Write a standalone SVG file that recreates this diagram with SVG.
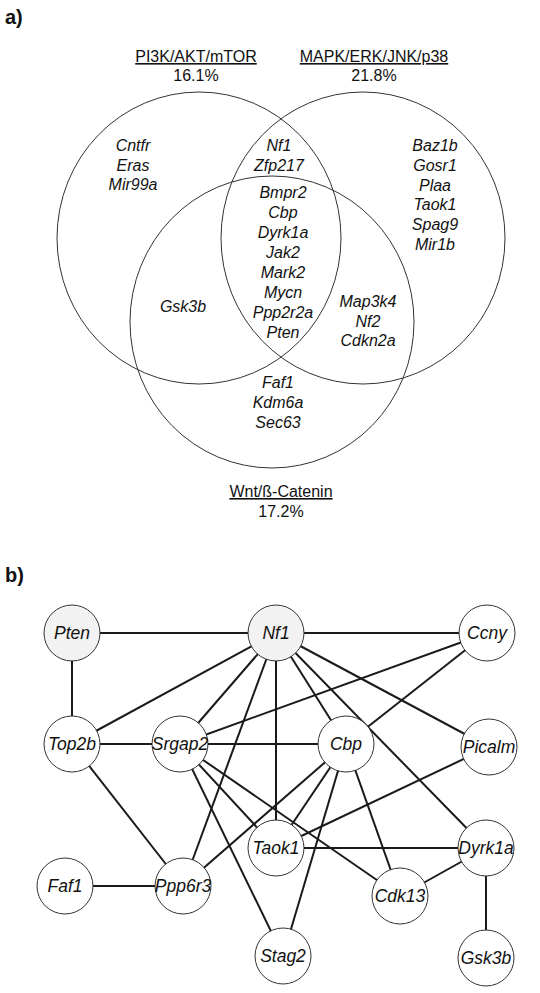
<svg xmlns="http://www.w3.org/2000/svg" width="540" height="993" viewBox="0 0 540 993">
<style>
text{font-family:"Liberation Sans",Arial,sans-serif;fill:#111;}
.lab{font-size:20px;font-weight:bold;}
.ttl{font-size:16px;text-anchor:middle;}
.g{font-size:16px;font-style:italic;text-anchor:middle;}
.venn{fill:none;stroke:#333;stroke-width:1;}
.e{stroke:#1a1a1a;stroke-width:2;}
.n{fill:#fff;stroke:#333;stroke-width:1;}
.n.h{fill:#f2f2f2;}
.nt{font-size:17.5px;font-style:italic;text-anchor:middle;}
</style>
<rect width="540" height="993" fill="#fff"/>
<text class="lab" x="5" y="24">a)</text>
<g id="venn">
<ellipse class="venn" cx="199" cy="238" rx="142" ry="146"/>
<ellipse class="venn" cx="363" cy="238" rx="142" ry="146"/>
<ellipse class="venn" cx="272" cy="322" rx="142" ry="146"/>
</g>
<g id="venn-labels">
<text class="ttl" x="196" y="62" text-decoration="underline">PI3K/AKT/mTOR</text>
<text class="ttl" x="196" y="81">16.1%</text>
<text class="ttl" x="374" y="62" text-decoration="underline">MAPK/ERK/JNK/p38</text>
<text class="ttl" x="374" y="81">21.8%</text>
<text class="ttl" x="281" y="497" text-decoration="underline">Wnt/ß-Catenin</text>
<text class="ttl" x="281" y="517">17.2%</text>
</g>
<g id="venn-genes">
<text class="g" x="133"><tspan x="133" y="151">Cntfr</tspan><tspan x="133" y="171">Eras</tspan><tspan x="133" y="190">Mir99a</tspan></text>
<text class="g" x="279"><tspan x="279" y="151">Nf1</tspan><tspan x="279" y="171">Zfp217</tspan></text>
<text class="g" x="283"><tspan x="283" y="198">Bmpr2</tspan><tspan x="283" y="218">Cbp</tspan><tspan x="283" y="238">Dyrk1a</tspan><tspan x="283" y="258">Jak2</tspan><tspan x="283" y="278">Mark2</tspan><tspan x="283" y="298">Mycn</tspan><tspan x="283" y="318">Ppp2r2a</tspan><tspan x="283" y="338">Pten</tspan></text>
<text class="g" x="435"><tspan x="435" y="151">Baz1b</tspan><tspan x="435" y="171">Gosr1</tspan><tspan x="435" y="191">Plaa</tspan><tspan x="435" y="210">Taok1</tspan><tspan x="435" y="230">Spag9</tspan><tspan x="435" y="250">Mir1b</tspan></text>
<text class="g" x="183" y="312">Gsk3b</text>
<text class="g" x="368"><tspan x="368" y="307">Map3k4</tspan><tspan x="368" y="327">Nf2</tspan><tspan x="368" y="346">Cdkn2a</tspan></text>
<text class="g" x="278"><tspan x="278" y="388">Faf1</tspan><tspan x="278" y="408">Kdm6a</tspan><tspan x="278" y="428">Sec63</tspan></text>
</g>
<text class="lab" x="5" y="582">b)</text>
<g id="connectors">
<line class="e" x1="72" y1="633" x2="276" y2="633"/>
<line class="e" x1="276" y1="633" x2="487" y2="633"/>
<line class="e" x1="72" y1="633" x2="72" y2="744"/>
<line class="e" x1="276" y1="633" x2="72" y2="744"/>
<line class="e" x1="276" y1="633" x2="180" y2="744"/>
<line class="e" x1="276" y1="633" x2="183" y2="886"/>
<line class="e" x1="276" y1="633" x2="276" y2="848"/>
<line class="e" x1="276" y1="633" x2="346" y2="744"/>
<line class="e" x1="276" y1="633" x2="486" y2="848"/>
<line class="e" x1="276" y1="633" x2="489" y2="747"/>
<line class="e" x1="487" y1="633" x2="180" y2="744"/>
<line class="e" x1="487" y1="633" x2="346" y2="744"/>
<line class="e" x1="72" y1="744" x2="346" y2="744"/>
<line class="e" x1="72" y1="744" x2="183" y2="886"/>
<line class="e" x1="180" y1="744" x2="276" y2="848"/>
<line class="e" x1="180" y1="744" x2="400" y2="896"/>
<line class="e" x1="180" y1="744" x2="283" y2="956"/>
<line class="e" x1="346" y1="744" x2="183" y2="886"/>
<line class="e" x1="346" y1="744" x2="276" y2="848"/>
<line class="e" x1="346" y1="744" x2="283" y2="956"/>
<line class="e" x1="346" y1="744" x2="400" y2="896"/>
<line class="e" x1="489" y1="747" x2="276" y2="848"/>
<line class="e" x1="276" y1="848" x2="486" y2="848"/>
<line class="e" x1="486" y1="848" x2="400" y2="896"/>
<line class="e" x1="486" y1="848" x2="486" y2="958"/>
<line class="e" x1="65" y1="886" x2="183" y2="886"/>
</g>
<g id="n-Pten"><circle class="n h" cx="72" cy="633" r="28"/><text class="nt" x="72" y="639">Pten</text></g>
<g id="n-Nf1"><circle class="n h" cx="276" cy="633" r="28"/><text class="nt" x="276" y="639">Nf1</text></g>
<g id="n-Ccny"><circle class="n" cx="487" cy="633" r="28"/><text class="nt" x="487" y="639">Ccny</text></g>
<g id="n-Top2b"><circle class="n" cx="72" cy="744" r="28"/><text class="nt" x="72" y="750">Top2b</text></g>
<g id="n-Srgap2"><circle class="n" cx="180" cy="744" r="28"/><text class="nt" x="180" y="750">Srgap2</text></g>
<g id="n-Cbp"><circle class="n" cx="346" cy="744" r="28"/><text class="nt" x="346" y="750">Cbp</text></g>
<g id="n-Picalm"><circle class="n" cx="489" cy="747" r="28"/><text class="nt" x="489" y="753">Picalm</text></g>
<g id="n-Taok1"><circle class="n" cx="276" cy="848" r="28"/><text class="nt" x="276" y="854">Taok1</text></g>
<g id="n-Dyrk1a"><circle class="n" cx="486" cy="848" r="28"/><text class="nt" x="486" y="854">Dyrk1a</text></g>
<g id="n-Faf1"><circle class="n" cx="65" cy="886" r="28"/><text class="nt" x="65" y="892">Faf1</text></g>
<g id="n-Ppp6r3"><circle class="n" cx="183" cy="886" r="28"/><text class="nt" x="183" y="892">Ppp6r3</text></g>
<g id="n-Cdk13"><circle class="n" cx="400" cy="896" r="28"/><text class="nt" x="400" y="902">Cdk13</text></g>
<g id="n-Stag2"><circle class="n" cx="283" cy="956" r="28"/><text class="nt" x="283" y="962">Stag2</text></g>
<g id="n-Gsk3b"><circle class="n" cx="486" cy="958" r="28"/><text class="nt" x="486" y="964">Gsk3b</text></g>
</svg>
